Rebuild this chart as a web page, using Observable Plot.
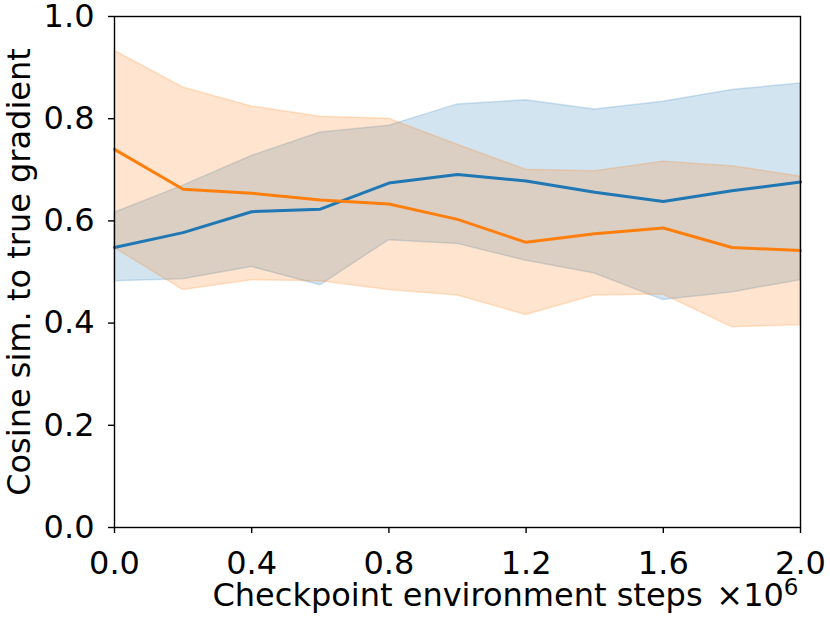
<!DOCTYPE html>
<html>
<head>
<meta charset="utf-8">
<script src="https://cdn.jsdelivr.net/npm/d3@7"></script>
<script src="https://cdn.jsdelivr.net/npm/@observablehq/plot@0.6"></script>
<style>
  body { margin: 0; background: white; }
  #chart svg { font-family: "DejaVu Sans", sans-serif; overflow: visible; }
</style>
</head>
<body>
<div id="chart"></div>
<script>
const steps = [0, 0.2, 0.4, 0.6, 0.8, 1.0, 1.2, 1.4, 1.6, 1.8, 2.0];
const blueMean = [0.548, 0.577, 0.618, 0.623, 0.674, 0.691, 0.678, 0.656, 0.638, 0.659, 0.676];
const blueLow  = [0.482, 0.486, 0.510, 0.474, 0.562, 0.555, 0.522, 0.497, 0.445, 0.460, 0.484];
const blueHigh = [0.616, 0.669, 0.727, 0.773, 0.786, 0.828, 0.836, 0.818, 0.833, 0.856, 0.869];
const orangeMean = [0.740, 0.662, 0.654, 0.641, 0.633, 0.603, 0.558, 0.575, 0.586, 0.548, 0.542];
const orangeLow  = [0.547, 0.465, 0.484, 0.482, 0.465, 0.454, 0.416, 0.454, 0.456, 0.392, 0.396];
const orangeHigh = [0.933, 0.861, 0.824, 0.804, 0.800, 0.749, 0.700, 0.697, 0.716, 0.707, 0.687];
const xTicks = [0, 0.4, 0.8, 1.2, 1.6, 2.0];
const yTicks = [0, 0.2, 0.4, 0.6, 0.8, 1.0];
const xLabel = "Checkpoint environment steps";
const xOffsetBase = "×10";
const xOffsetExp = "6";
const yLabel = "Cosine sim. to true gradient";

const blue = "#1f77b4", orange = "#ff7f0e";
const blueData = steps.map((s, i) => ({x: s, y: blueMean[i], lo: blueLow[i], hi: blueHigh[i]}));
const orangeData = steps.map((s, i) => ({x: s, y: orangeMean[i], lo: orangeLow[i], hi: orangeHigh[i]}));

const fs = 32;
const chart = Plot.plot({
  width: 830,
  height: 623,
  marginLeft: 114,
  marginRight: 30,
  marginTop: 16,
  marginBottom: 96,
  style: {fontFamily: "DejaVu Sans", fontSize: fs + "px", background: "white", color: "black", overflow: "visible"},
  x: {domain: [0, 2], ticks: xTicks, tickFormat: d3.format(".1f")},
  y: {domain: [0, 1], ticks: yTicks, tickFormat: d3.format(".1f")},
  marks: [
    Plot.areaY(blueData, {x: "x", y1: "lo", y2: "hi", fill: blue, fillOpacity: 0.2, stroke: blue, strokeOpacity: 0.2, strokeWidth: 1.5}),
    Plot.areaY(orangeData, {x: "x", y1: "lo", y2: "hi", fill: orange, fillOpacity: 0.2, stroke: orange, strokeOpacity: 0.2, strokeWidth: 1.5}),
    Plot.lineY(blueData, {x: "x", y: "y", stroke: blue, strokeWidth: 3}),
    Plot.lineY(orangeData, {x: "x", y: "y", stroke: orange, strokeWidth: 3}),
    Plot.frame({stroke: "black", strokeWidth: 1.4}),
    Plot.axisX({ticks: xTicks, tickFormat: d3.format(".1f"), tickSize: 6, tickPadding: 18, label: null, fontSize: fs, strokeWidth: 1.4}),
    Plot.axisY({ticks: yTicks, tickFormat: d3.format(".1f"), tickSize: 6, tickPadding: 14, label: null, fontSize: fs, strokeWidth: 1.4}),
    Plot.text([xLabel], {frameAnchor: "bottom", text: d => d, textAnchor: "middle", dy: 78, fontSize: fs, fill: "black"}),
    Plot.text([xOffsetBase], {frameAnchor: "bottom-right", text: d => d, textAnchor: "end", dy: 78, dx: -2, fontSize: fs, fill: "black", className: "xoffset"}),
    Plot.text([yLabel], {frameAnchor: "left", text: d => d, textAnchor: "middle", rotate: -90, dx: -95, fontSize: fs, fill: "black"})
  ]
});
// add the exponent as a raised, smaller tspan
d3.select(chart).selectAll(".xoffset text").each(function() {
  const t = d3.select(this);
  t.append("tspan").attr("dy", "-0.45em").attr("font-size", "0.72em").text(xOffsetExp);
});
document.getElementById("chart").appendChild(chart);
</script>
</body>
</html>
